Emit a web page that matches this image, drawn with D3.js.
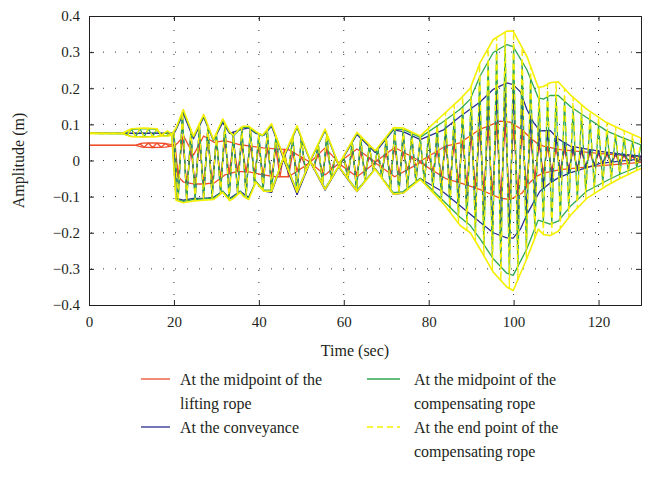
<!DOCTYPE html>
<html>
<head>
<meta charset="utf-8">
<script src="https://cdn.jsdelivr.net/npm/d3@7"></script>
<style>
  body { margin: 0; background: #fff; }
  text { font-family: "Liberation Serif", "DejaVu Serif", serif; fill: #231f20; }
</style>
</head>
<body>
<script>
// key times (s) with the upper / lower outline of each record (m)
const redT  = [0, 11, 12.5, 15, 18, 19.5, 20.3, 21, 22.3, 24.6, 27, 29.5, 32, 35, 38, 41, 44, 47, 52.1, 55.6,
  58.8, 63.1, 67.4, 72, 78, 84, 87.4, 92, 94, 96.8, 99.2, 102, 103.9, 105.5, 107, 111, 120, 130];
const redUp = [0.042, 0.042, 0.048, 0.049, 0.047, 0.044, 0.042, 0.050, 0.068, 0.015, 0.068, 0.050, 0.055, 0.045, 0.040, 0.035, 0.032, 0.030, -0.005, 0.035,
  -0.006, 0.032, -0.004, 0.036, -0.002, 0.040, 0.049, 0.086, 0.095, 0.109, 0.106, 0.085, 0.063, 0.048, 0.040, 0.030, 0.020, 0.010];
const redLo = [0.042, 0.042, 0.037, 0.036, 0.037, 0.040, 0.042, -0.045, -0.060, -0.065, -0.065, -0.062, -0.040, -0.030, -0.032, -0.040, -0.045, -0.045, -0.006, -0.040,
  -0.008, -0.045, -0.006, -0.045, -0.006, -0.050, -0.062, -0.080, -0.090, -0.104, -0.108, -0.090, -0.060, -0.043, -0.035, -0.025, -0.015, -0.005];

const bluT  = [0, 20, 20.5, 22.2, 24.6, 27, 29.3, 31.5, 33.1, 35.6, 37.6, 39.3, 41.2, 43, 45.8, 49, 52.1, 55.6, 58.8, 63.1,
  67.4, 71.7, 74, 78, 83.5, 87.4, 92.1, 95.2, 98.4, 99.9, 101.6, 103.1, 104.7, 106.2, 108.6, 110.5, 113.3, 120.4, 125, 130];
const bluUp = [0.075, 0.075, 0.085, 0.130, 0.060, 0.120, 0.055, 0.105, 0.075, 0.085, 0.090, 0.075, 0.070, 0.095, 0.005, 0.092, -0.002, 0.083, -0.014, 0.072,
  0.022, 0.085, 0.080, 0.058, 0.085, 0.122, 0.162, 0.197, 0.215, 0.210, 0.190, 0.142, 0.105, 0.082, 0.083, 0.060, 0.040, 0.025, 0.018, 0.012];
const bluLo = [0.075, 0.075, -0.105, -0.110, -0.105, -0.105, -0.102, -0.085, -0.105, -0.085, -0.102, -0.058, -0.085, -0.088, 0.003, -0.094, -0.004, -0.082, -0.018, -0.086,
  -0.022, -0.094, -0.090, -0.050, -0.088, -0.125, -0.171, -0.200, -0.214, -0.215, -0.190, -0.150, -0.116, -0.085, -0.062, -0.048, -0.034, -0.008, -0.002, 0.004];

// green and yellow share the same key times
const ropeT = [0, 8, 10, 13, 16, 17, 18.5, 19.5, 20.5, 22.2, 24.6, 27, 29.3, 31.5, 33.1, 34, 35.6, 36.4, 37.6, 39.3,
  40.8, 41.2, 43, 45.8, 49, 52.1, 55.6, 58.8, 63.1, 67.4, 71.7, 74, 78, 83.5, 87.4, 89.8, 92.1, 95.2, 98.4, 99.9,
  103.1, 105.8, 107, 108.6, 110.5, 113.5, 117.2, 121.9, 125, 130];
const grnUp = [0.075, 0.076, 0.086, 0.088, 0.086, 0.071, 0.080, 0.072, 0.088, 0.137, 0.065, 0.123, 0.056, 0.111, 0.078, 0.068, 0.087, 0.092, 0.092, 0.077,
  0.068, 0.072, 0.098, 0.010, 0.092, 0.000, 0.083, -0.012, 0.075, 0.026, 0.087, 0.086, 0.064, 0.108, 0.142, 0.170, 0.234, 0.299, 0.321, 0.315,
  0.252, 0.174, 0.170, 0.180, 0.180, 0.148, 0.119, 0.082, 0.066, 0.043];
const grnLo = [0.075, 0.074, 0.067, 0.066, 0.067, 0.069, 0.069, 0.070, -0.106, -0.113, -0.108, -0.106, -0.104, -0.085, -0.107, -0.101, -0.085, -0.097, -0.104, -0.058,
  -0.077, -0.082, -0.082, 0.008, -0.085, -0.002, -0.077, -0.016, -0.082, -0.023, -0.089, -0.086, -0.049, -0.112, -0.157, -0.180, -0.217, -0.272, -0.312, -0.318,
  -0.245, -0.165, -0.170, -0.176, -0.168, -0.125, -0.085, -0.056, -0.038, -0.014];
const yelUp = [0.075, 0.076, 0.088, 0.090, 0.088, 0.070, 0.082, 0.072, 0.090, 0.141, 0.067, 0.127, 0.058, 0.115, 0.080, 0.070, 0.090, 0.095, 0.095, 0.080,
  0.070, 0.075, 0.102, 0.010, 0.096, 0.000, 0.087, -0.012, 0.078, 0.027, 0.091, 0.090, 0.068, 0.128, 0.170, 0.200, 0.271, 0.335, 0.358, 0.358,
  0.289, 0.202, 0.205, 0.215, 0.218, 0.180, 0.142, 0.105, 0.088, 0.062];
const yelLo = [0.075, 0.074, 0.066, 0.065, 0.066, 0.068, 0.068, 0.070, -0.110, -0.117, -0.112, -0.110, -0.108, -0.088, -0.111, -0.105, -0.088, -0.100, -0.108, -0.060,
  -0.080, -0.085, -0.085, 0.008, -0.088, -0.002, -0.080, -0.016, -0.085, -0.024, -0.093, -0.090, -0.052, -0.120, -0.180, -0.200, -0.245, -0.309, -0.350, -0.360,
  -0.272, -0.190, -0.205, -0.208, -0.196, -0.150, -0.105, -0.070, -0.050, -0.022];

const xTicks = [0, 20, 40, 60, 80, 100, 120];
const yTicks = [-0.4, -0.3, -0.2, -0.1, 0, 0.1, 0.2, 0.3, 0.4];
const legendNames = [
  ["At the midpoint of the", "lifting rope"],
  ["At the conveyance"],
  ["At the midpoint of the", "compensating rope"],
  ["At the end point of the", "compensating rope"]
];

// plot box
const margin = { top: 16, right: 12, bottom: 179, left: 89 },
  W = 653, H = 484,
  width = W - margin.left - margin.right,
  height = H - margin.top - margin.bottom;

const series = [
  { t: redT, up: redUp, lo: redLo, color: "#ef4d2a", dash: null },
  { t: bluT, up: bluUp, lo: bluLo, color: "#2b2f8f", dash: null },
  { t: ropeT, up: grnUp, lo: grnLo, color: "#2fa84f", dash: null },
  { t: ropeT, up: yelUp, lo: yelLo, color: "#f5ef00", dash: "6,4" }
];

const x = d3.scaleLinear().domain([0, 130]).range([0, width]);
const y = d3.scaleLinear().domain([-0.4, 0.4]).range([height, 0]);

const svg = d3.select("body").append("svg")
  .attr("width", W)
  .attr("height", H);

const g = svg.append("g")
  .attr("transform", "translate(" + margin.left + "," + margin.top + ")");

g.append("clipPath").attr("id", "clip")
  .append("rect").attr("width", width).attr("height", height);

// dotted grid
g.append("g").selectAll("line")
  .data(yTicks.slice(1, -1))
  .enter().append("line")
  .attr("x1", 2).attr("x2", width)
  .attr("y1", d => y(d)).attr("y2", d => y(d))
  .attr("stroke", "#333").attr("stroke-dasharray", "1,11");
g.append("g").selectAll("line")
  .data(xTicks.slice(1))
  .enter().append("line")
  .attr("x1", d => x(d)).attr("x2", d => x(d))
  .attr("y1", 2).attr("y2", height)
  .attr("stroke", "#333").attr("stroke-dasharray", "1,11");

const line = d3.line().x(d => x(d[0])).y(d => y(d[1]));

// each record swings about once a second between its two outlines
const dt = 1.0;
const samples = d3.range(0, 130 + 1e-9, dt);

const plot = g.append("g").attr("clip-path", "url(#clip)");

series.forEach(s => {
  const upS = d3.scaleLinear().domain(s.t).range(s.up);
  const loS = d3.scaleLinear().domain(s.t).range(s.lo);
  const zig = samples.map((t, i) => [t, i % 2 ? loS(t) : upS(t)]);

  plot.append("path")
    .attr("d", line(zig))
    .attr("fill", "none")
    .attr("stroke", s.color)
    .attr("stroke-width", 1.3)
    .attr("stroke-linejoin", "round")
    .attr("stroke-dasharray", s.dash);

  // outlines come out solid where the swings pack together
  plot.selectAll(null)
    .data([s.up, s.lo])
    .enter().append("path")
    .attr("d", vals => line(s.t.map((t, i) => [t, vals[i]])))
    .attr("fill", "none")
    .attr("stroke", s.color)
    .attr("stroke-width", s.dash ? 1.6 : 1.3)
    .attr("stroke-linejoin", "round");
});

// axes, MATLAB style: box with inward ticks
const fmtY = d => d === 0 ? "0" : d3.format(".1f")(d).replace("-", "\u2212");

g.append("g")
  .attr("transform", "translate(0," + height + ")")
  .call(d3.axisBottom(x).tickValues(xTicks).tickSize(-5).tickPadding(11).tickFormat(d3.format("d")));
g.append("g")
  .call(d3.axisTop(x).tickValues(xTicks).tickSize(-5).tickFormat(""));
g.append("g")
  .call(d3.axisLeft(y).tickValues(yTicks).tickSize(-5).tickPadding(9).tickFormat(fmtY));
g.append("g")
  .attr("transform", "translate(" + width + ",0)")
  .call(d3.axisRight(y).tickValues(yTicks).tickSize(-5).tickFormat(""));

g.selectAll(".domain").attr("stroke", "#231f20");
g.selectAll(".tick line").attr("stroke", "#231f20");
g.selectAll(".tick text").style("font-size", "15px").attr("fill", "#231f20");

// axis titles
svg.append("text")
  .attr("x", margin.left + width / 2 - 10)
  .attr("y", 356)
  .attr("text-anchor", "middle")
  .style("font-size", "16px")
  .text("Time (sec)");

svg.append("text")
  .attr("transform", "translate(24," + (margin.top + height / 2) + ") rotate(-90)")
  .attr("text-anchor", "middle")
  .style("font-size", "16px")
  .text("Amplitude (m)");

// legend
const legendPos = [
  { lx: 141, ly: 379 },
  { lx: 141, ly: 427 },
  { lx: 367, ly: 379 },
  { lx: 367, ly: 427 }
];

const leg = svg.append("g").selectAll("g")
  .data(series)
  .enter().append("g")
  .attr("transform", (d, i) => "translate(" + legendPos[i].lx + "," + legendPos[i].ly + ")");

leg.append("line")
  .attr("x1", 0).attr("x2", (d, i) => i < 2 ? 29 : 33)
  .attr("stroke", d => d.color)
  .attr("stroke-width", 1.3)
  .attr("stroke-dasharray", d => d.dash);

leg.append("text")
  .attr("x", (d, i) => i < 2 ? 39 : 47)
  .style("font-size", "16px")
  .selectAll("tspan")
  .data((d, i) => legendNames[i])
  .enter().append("tspan")
  .attr("x", function () { return this.parentNode.getAttribute("x"); })
  .attr("dy", (d, j) => j === 0 ? "0.35em" : "1.5em")
  .text(d => d);
</script>
</body>
</html>
